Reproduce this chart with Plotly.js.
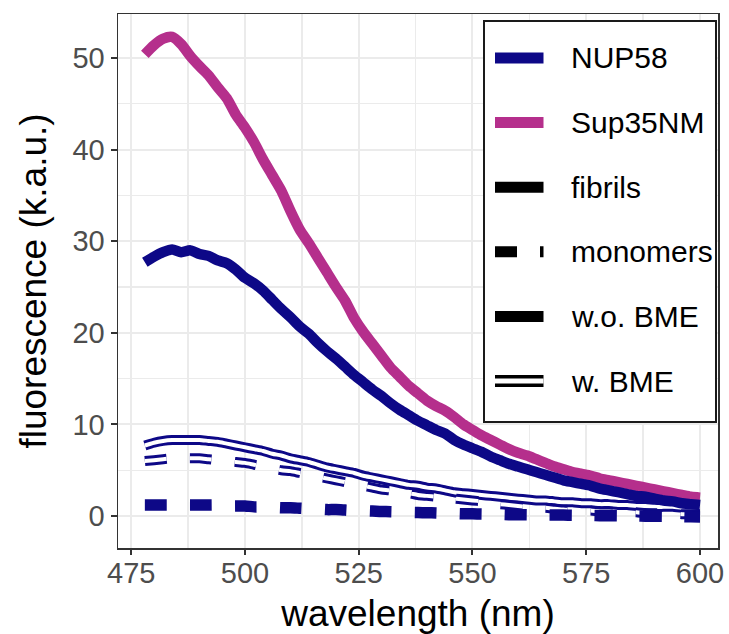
<!DOCTYPE html>
<html>
<head>
<meta charset="utf-8">
<script src="https://cdn.plot.ly/plotly-3.0.1.min.js"></script>
<style>html,body{margin:0;padding:0;background:#fff;}#chart{width:729px;height:634px;}</style>
</head>
<body>
<div id="chart"></div>
<script>
// wavelength (nm)
var wavelength = [478,480,482,484,486,488,490,492,494,496,498,500,502,504,506,508,510,512,514,516,518,520,522,524,526,528,530,532,534,536,538,540,542,544,546,548,550,552,554,556,558,560,562,564,566,568,570,572,574,576,578,580,582,584,586,588,590,592,594,596,598,600];

// NUP58 fibrils, w.o. BME
var nup58FibrilsNoBME = [27.7,28.3,28.8,29.1,28.8,29.0,28.6,28.4,27.9,27.6,26.9,26.0,25.4,24.6,23.6,22.6,21.7,20.7,19.9,18.9,18.0,17.2,16.3,15.4,14.6,13.8,13.1,12.3,11.6,11.0,10.4,9.9,9.4,9.0,8.3,7.8,7.4,7.0,6.5,6.1,5.7,5.4,5.1,4.8,4.5,4.2,3.9,3.7,3.5,3.3,3.0,2.8,2.6,2.4,2.2,2.1,1.9,1.7,1.6,1.4,1.3,1.2];

// Sup35NM fibrils, w.o. BME
var sup35FibrilsNoBME = [50.4,51.4,52.1,52.3,51.5,50.2,49.1,48.1,46.8,45.6,43.8,42.4,40.8,38.9,37.2,35.5,33.3,31.3,29.8,28.2,26.6,25.0,23.5,21.6,20.1,18.8,17.5,16.2,15.2,14.2,13.4,12.6,12.0,11.5,10.8,10.0,9.4,8.8,8.3,7.8,7.3,6.9,6.6,6.2,5.8,5.4,5.1,4.8,4.6,4.4,4.1,3.9,3.7,3.5,3.3,3.1,2.9,2.7,2.5,2.3,2.1,2.0];

// NUP58 fibrils, w. BME
var nup58FibrilsBME = [7.7,8.0,8.2,8.3,8.3,8.3,8.3,8.2,8.1,7.9,7.7,7.5,7.3,7.1,6.8,6.6,6.3,6.1,5.9,5.6,5.3,5.1,4.9,4.7,4.4,4.2,4.0,3.8,3.6,3.4,3.3,3.1,3.0,2.8,2.6,2.5,2.4,2.3,2.2,2.1,2.0,1.9,1.8,1.7,1.7,1.6,1.5,1.5,1.4,1.4,1.3,1.3,1.2,1.2,1.1,1.1,1.0,1.0,1.0,0.9,0.9,0.9];

// NUP58 monomers, w. BME
var nup58MonomersBME = [6.0,6.1,6.2,6.3,6.3,6.3,6.3,6.2,6.1,6.0,5.9,5.8,5.6,5.4,5.2,5.0,4.9,4.7,4.5,4.3,4.1,3.9,3.7,3.5,3.3,3.1,2.9,2.8,2.6,2.5,2.3,2.2,2.1,2.0,1.9,1.8,1.7,1.6,1.4,1.3,1.2,1.1,1.0,0.9,0.9,0.8,0.7,0.7,0.6,0.6,0.5,0.5,0.4,0.4,0.4,0.3,0.3,0.3,0.3,0.2,0.2,0.2];

// NUP58 monomers, w.o. BME
var nup58MonomersNoBME = [1.2,1.2,1.2,1.2,1.2,1.2,1.2,1.2,1.2,1.1,1.1,1.1,1.0,1.0,0.95,0.9,0.9,0.85,0.8,0.75,0.7,0.7,0.65,0.6,0.58,0.55,0.5,0.48,0.45,0.4,0.38,0.36,0.34,0.3,0.28,0.25,0.24,0.22,0.2,0.18,0.15,0.14,0.13,0.12,0.11,0.1,0.1,0.09,0.08,0.06,0.04,0.03,0.02,0.01,0.0,-0.02,-0.03,-0.04,-0.05,-0.07,-0.09,-0.1];

// legend labels
var legendLabels = ["NUP58","Sup35NM","fibrils","monomers","w.o. BME","w. BME"];
var xTicks = [475,500,525,550,575,600];
var yTicks = [0,10,20,30,40,50];

var NAVY = "#0D0887", MAGENTA = "#B52F8C";
var DASH = "22px,23px";
var FONT = "Liberation Sans, Arial, Helvetica, sans-serif";

function tr(y, color, width, dash) {
  return {x: wavelength, y: y, type: "scatter", mode: "lines", showlegend: false, hoverinfo: "skip",
    line: {color: color, width: width, dash: dash || "solid", shape: "spline", smoothing: 0.7}};
}

var data = [
  tr(nup58FibrilsBME, NAVY, 10),
  tr(nup58FibrilsBME, "#ffffff", 4),
  tr(nup58MonomersBME, NAVY, 10, DASH),
  tr(nup58MonomersBME, "#ffffff", 4, DASH),
  tr(nup58MonomersNoBME, NAVY, 11.5, DASH),
  tr(sup35FibrilsNoBME, MAGENTA, 10.5),
  tr(nup58FibrilsNoBME, NAVY, 10.5)
];

// manual legend (paper coordinates)
var L = 118, T = 14, W = 600, H = 534;
function px2x(p){ return (p - L) / W; }
function py2y(p){ return (T + H - p) / H; }
var shapes = [];
var annotations = [];
shapes.push({type: "rect", xref: "paper", yref: "paper", x0: px2x(484), x1: px2x(716), y0: py2y(422), y1: py2y(21),
  line: {color: "#1a1a1a", width: 2}, fillcolor: "#ffffff", layer: "above"});
var keyStyles = [
  [{c: NAVY, w: 11, d: "solid"}],
  [{c: MAGENTA, w: 11, d: "solid"}],
  [{c: "#000", w: 11, d: "solid"}],
  [{c: "#000", w: 11, d: DASH}],
  [{c: "#000", w: 11, d: "solid"}],
  [{c: "#000", w: 12, d: "solid"}, {c: "#fff", w: 5, d: "solid"}]
];
for (var i = 0; i < legendLabels.length; i++) {
  var cy = 58 + i * 64.6;
  keyStyles[i].forEach(function(s){
    shapes.push({type: "line", xref: "paper", yref: "paper", x0: px2x(495), x1: px2x(543.5), y0: py2y(cy), y1: py2y(cy),
      line: {color: s.c, width: s.w, dash: s.d}, layer: "above"});
  });
  annotations.push({xref: "paper", yref: "paper", x: px2x(569), y: py2y(cy), xanchor: "left", yanchor: "middle",
    text: legendLabels[i], showarrow: false, font: {family: FONT, size: 30, color: "#000"}});
}

var axisCommon = {
  showgrid: true, gridcolor: "#ebebeb", gridwidth: 2, zeroline: false,
  showline: true, mirror: true, linecolor: "#333333", linewidth: 1.5,
  ticks: "outside", ticklen: 6, tickwidth: 2, tickcolor: "#333333",
  tickfont: {family: FONT, size: 29, color: "#4d4d4d"}
};

var layout = {
  width: 729, height: 634,
  margin: {l: 118, r: 11, t: 14, b: 86},
  paper_bgcolor: "#ffffff", plot_bgcolor: "#ffffff",
  showlegend: false,
  xaxis: Object.assign({}, axisCommon, {
    range: [472.1, 603.95], tickmode: "array", tickvals: xTicks, ticktext: xTicks.map(String),
    ticklen: 5, ticklabelstandoff: -6,
    minor: {dtick: 12.5, tick0: 475, showgrid: true, gridcolor: "#ebebeb", gridwidth: 1.3, ticks: ""},
    title: {text: "wavelength (nm)", font: {family: FONT, size: 37, color: "#000"}, standoff: 14}
  }),
  yaxis: Object.assign({}, axisCommon, {
    range: [-3.49, 54.8], tickmode: "array", tickvals: yTicks, ticktext: yTicks.map(String),
    minor: {dtick: 5, tick0: 0, showgrid: true, gridcolor: "#ebebeb", gridwidth: 1.3, ticks: ""},
    title: {text: "fluorescence (k.a.u.)", font: {family: FONT, size: 37, color: "#000"}, standoff: 14}
  }),
  shapes: shapes,
  annotations: annotations
};

Plotly.newPlot("chart", data, layout, {displayModeBar: false, staticPlot: true});
</script>
</body>
</html>
